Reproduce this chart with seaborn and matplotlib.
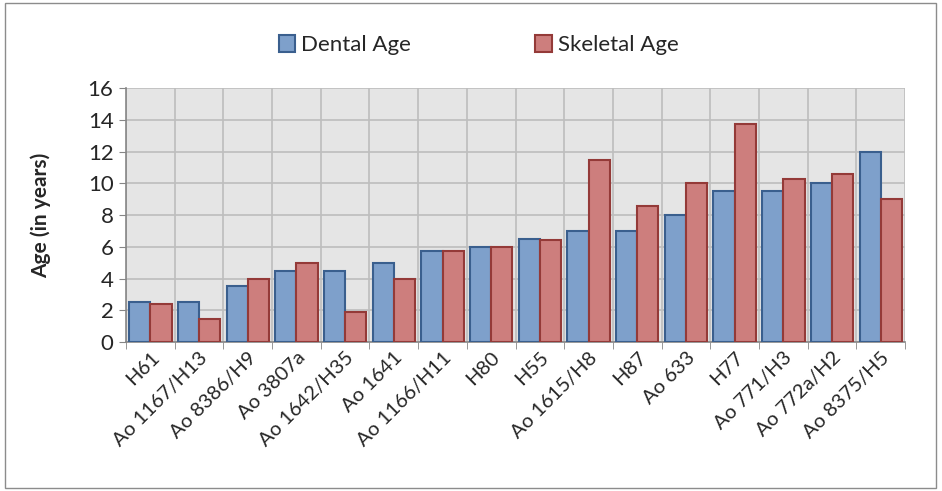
import pandas as pd
import seaborn as sns
import matplotlib.pyplot as plt
from matplotlib.patches import Rectangle, Patch

# Values
specimens = ['H61', 'Ao 1167/H13', 'Ao 8386/H9', 'Ao 3807a', 'Ao 1642/H35', 'Ao 1641',
             'Ao 1166/H11', 'H80', 'H55', 'Ao 1615/H8', 'H87', 'Ao 633', 'H77',
             'Ao 771/H3', 'Ao 772a/H2', 'Ao 8375/H5']
dental_age = [2.5, 2.5, 3.5, 4.5, 4.5, 5.0, 5.75, 6.0, 6.5, 7.0, 7.0, 8.0, 9.5, 9.5, 10.0, 12.0]
skeletal_age = [2.4, 1.45, 4.0, 5.0, 1.9, 4.0, 5.75, 6.0, 6.4, 11.5, 8.55, 10.0, 13.75, 10.3, 10.6, 9.0]

df = pd.DataFrame({'Specimen': specimens * 2,
                   'Age': dental_age + skeletal_age,
                   'Type': ['Dental Age'] * len(specimens) + ['Skeletal Age'] * len(specimens)})

fill = {'Dental Age': '#7ea0cb', 'Skeletal Age': '#cd7e7d'}
edge = {'Dental Age': '#3a5f8e', 'Skeletal Age': '#943a38'}

sns.set_style('white')
plt.rcParams['font.family'] = ['Lato', 'DejaVu Sans']

fig = plt.figure(figsize=(9.42, 4.91), dpi=100)
ax = fig.add_axes([0.1338, 0.3035, 0.827, 0.517])

sns.barplot(data=df, x='Specimen', y='Age', hue='Type', order=specimens,
            palette=fill, width=0.87, saturation=1, ax=ax, zorder=3)

for cont, name in zip(ax.containers, ['Dental Age', 'Skeletal Age']):
    for bar in cont:
        bar.set_edgecolor(edge[name])
        bar.set_linewidth(1.5)

ax.set_facecolor('#e5e5e5')
ax.set_ylim(0, 16)
ax.set_xlim(-0.5, len(specimens) - 0.5)
ax.set_yticks(range(0, 17, 2))
ax.set_xticks([k - 0.5 for k in range(len(specimens) + 1)], minor=True)
ax.grid(True, axis='y', color='#bdbdbd', lw=1.2, zorder=0)
ax.grid(True, axis='x', which='minor', color='#bdbdbd', lw=1.2, zorder=0)
ax.grid(False, axis='x', which='major')
ax.set_axisbelow(True)

ax.tick_params(axis='x', which='major', length=0, labelsize=14.5, pad=5)
ax.tick_params(axis='x', which='minor', length=5, color='#868686', direction='out', bottom=True)
ax.tick_params(axis='y', length=5, color='#868686', direction='out', left=True, labelsize=16, pad=4)
plt.setp(ax.get_xticklabels(), rotation=45, ha='right', rotation_mode='anchor')

for side in ['top', 'right']:
    ax.spines[side].set_visible(False)
for side in ['left', 'bottom']:
    ax.spines[side].set_color('#868686')
    ax.spines[side].set_linewidth(1.2)

ax.set_xlabel('')
ax.set_ylabel('Age (in years)', fontsize=15, fontweight='bold', labelpad=26)

ax.legend_.remove()
handles = [Patch(facecolor=fill[k], edgecolor=edge[k], lw=1.5, label=k) for k in fill]
fig.legend(handles=handles, loc='center', bbox_to_anchor=(0.508, 0.908), ncol=2,
           frameon=False, fontsize=16, columnspacing=5.6, handlelength=0.75,
           handleheight=0.75, handletextpad=0.25)

fig.patches.append(Rectangle((0.0055, 0.006), 0.988, 0.988, transform=fig.transFigure,
                             fill=False, edgecolor='#8c8c8c', lw=1))

plt.savefig('out.png', dpi=100)
